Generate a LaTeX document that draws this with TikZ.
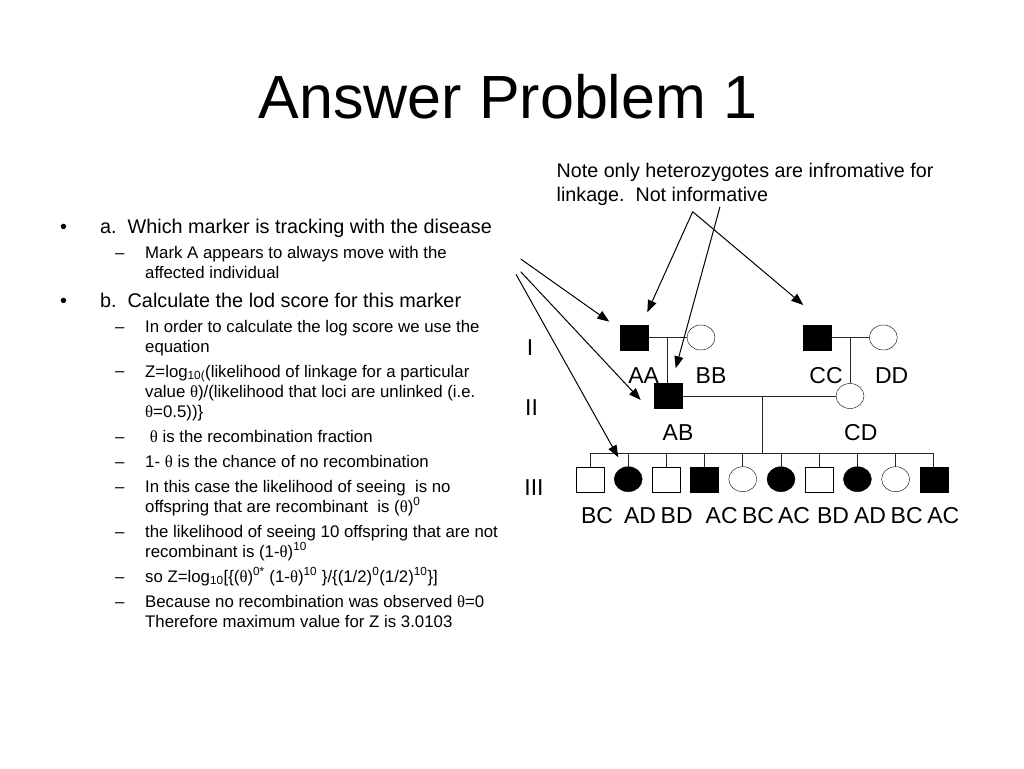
\documentclass[tikz,border=0pt]{standalone}
\usepackage{fontspec}
\setmainfont{Liberation Sans}
\newfontfamily\greekfont{Liberation Serif}
\usepackage{tikz}
\usetikzlibrary{shapes.geometric}
\usetikzlibrary{calc}
\usetikzlibrary{arrows.meta}
\newcommand{\thet}{{\greekfont θ}}

\begin{document}
\begin{tikzpicture}[x=1pt,y=-1pt,
	male/.style={draw,rectangle,minimum width=28pt,minimum height=25pt,inner sep=0pt},
	female/.style={draw,ellipse,minimum width=28pt,minimum height=25pt,inner sep=0pt},
	sick/.style={fill=black},
	kin/.style={line width=0.8pt,draw=black!85},
	pointer/.style={line width=1pt,-{Triangle[length=12pt,width=9pt]}},
	geno/.style={font=\fontsize{23}{27}\selectfont,inner sep=0pt,anchor=base},
	mainitem/.style={font=\fontsize{19.8}{24}\selectfont,inner sep=0pt,anchor=base west,align=left},
	subitem/.style={font=\fontsize{16.8}{20}\selectfont,inner sep=0pt,anchor=base west,align=left}]
	\fill[white] (0,0) rectangle (1024,768);
	\useasboundingbox (0,0) rectangle (1024,768);
	\node[anchor=base,inner sep=0pt,font=\fontsize{61}{70}\selectfont] (title) at (508,118.3) {Answer Problem 1};
	% left column (multi-line items sit on their last baseline)
	\node[mainitem] (bula) at (60,233) {•};
	\node[mainitem] (ita) at (100,233) {a.\ \ Which marker is tracking with the disease};
	\node[subitem] (dsh1) at (115,258) {–};
	\node[subitem] (sub1) at (145,278) {Mark A appears to always move with the\\affected individual};
	\node[mainitem] (bulb) at (60,307) {•};
	\node[mainitem] (itb) at (100,307) {b.\ \ Calculate the lod score for this marker};
	\node[subitem] (dsh2) at (115,332) {–};
	\node[subitem] (sub2) at (145,352) {In order to calculate the log score we use the\\equation};
	\node[subitem] (dsh3) at (115,376) {–};
	\node[subitem] (sub3) at (145,417) {Z=log\textsubscript{10(}(likelihood of linkage for a particular\\value \thet)/(likelihood that loci are unlinked (i.e.\\\thet=0.5))\}};
	\node[subitem] (dsh4) at (115,442) {–};
	\node[subitem] (sub4) at (145,442) {\ \thet{} is the recombination fraction};
	\node[subitem] (dsh5) at (115,467) {–};
	\node[subitem] (sub5) at (145,467) {1- \thet{} is the chance of no recombination};
	\node[subitem] (dsh6) at (115,492) {–};
	\node[subitem] (sub6) at (145,512) {In this case the likelihood of seeing\ \ is no\\offspring that are recombinant\ \ is (\thet)\textsuperscript{0}};
	\node[subitem] (dsh7) at (115,537) {–};
	\node[subitem] (sub7) at (145,557) {the likelihood of seeing 10 offspring that are not\\recombinant is (1-\thet)\textsuperscript{10}};
	\node[subitem] (dsh8) at (115,582) {–};
	\node[subitem] (sub8) at (145,582) {so Z=log\textsubscript{10}[\{(\thet)\textsuperscript{0*} (1-\thet)\textsuperscript{10} \}/\{(1/2)\textsuperscript{0}(1/2)\textsuperscript{10}\}]};
	\node[subitem] (dsh9) at (115,607) {–};
	\node[subitem] (sub9) at (145,627) {Because no recombination was observed \thet=0\\Therefore maximum value for Z is 3.0103};
	% note
	\node[anchor=base west,align=left,inner sep=0pt,font=\fontsize{19.7}{24.4}\selectfont] (note) at (556.5,201.7) {Note only heterozygotes are infromative for\\linkage.\ \ Not informative};
	% pedigree
	\node[male,sick] (aa) at (634.5,337.5) {};
	\node[female] (bb) at (701,337.5) {};
	\node[male,sick] (cc) at (817,337.5) {};
	\node[female] (dd) at (883.3,337.5) {};
	\node[male,sick] (ab) at (668,396) {};
	\node[female] (cd) at (850,396) {};
	\node[male] (c1) at (590,479.2) {};
	\node[female,sick] (c2) at (628.2,479.2) {};
	\node[male] (c3) at (666.4,479.2) {};
	\node[male,sick] (c4) at (704.6,479.2) {};
	\node[female] (c5) at (742.8,479.2) {};
	\node[female,sick] (c6) at (781,479.2) {};
	\node[male] (c7) at (819.2,479.2) {};
	\node[female,sick] (c8) at (857.4,479.2) {};
	\node[female] (c9) at (895.6,479.2) {};
	\node[male,sick] (c10) at (933.8,479.2) {};
	\coordinate (m1) at ($(aa.east)!.5!(bb.west)$);
	\coordinate (m2) at ($(cc.east)!.5!(dd.west)$);
	\coordinate (m3) at ($(ab.east)!.52!(cd.west)$);
	\coordinate (sib) at ($(m3)+(0,57.3)$);
	\draw[kin] (aa) -- (bb) (m1) -- (m1 |- ab.north)
		(cc) -- (dd) (m2) -- (m2 |- cd.north)
		(ab) -- (cd) (m3) -- (sib)
		(sib -| c1) -- (sib -| c10);
	\draw[kin] (sib -| c1) -- (c1.north) (sib -| c2) -- (c2.north)
		(sib -| c3) -- (c3.north) (sib -| c4) -- (c4.north)
		(sib -| c5) -- (c5.north) (sib -| c6) -- (c6.north)
		(sib -| c7) -- (c7.north) (sib -| c8) -- (c8.north)
		(sib -| c9) -- (c9.north) (sib -| c10) -- (c10.north);
	% genotypes
	\node[geno] (gaa) at (643.7,383.3) {AA};
	\node[geno] (gbb) at (711,383.3) {BB};
	\node[geno] (gcc) at (826,383.3) {CC};
	\node[geno] (gdd) at (891.7,383.3) {DD};
	\node[geno] (gab) at (678,440.7) {AB};
	\node[geno] (gcd) at (860.8,440.7) {CD};
	\node[geno] (g1) at (597,523.3) {BC};
	\node[geno] (g2) at (640,523.3) {AD};
	\node[geno] (g3) at (676.7,523.3) {BD};
	\node[geno] (g4) at (721.7,523.3) {AC};
	\node[geno] (g5) at (758,523.3) {BC};
	\node[geno] (g6) at (794,523.3) {AC};
	\node[geno] (g7) at (833,523.3) {BD};
	\node[geno] (g8) at (870,523.3) {AD};
	\node[geno] (g9) at (906.7,523.3) {BC};
	\node[geno] (g10) at (943.3,523.3) {AC};
	% generations
	\node[geno] (gen1) at (530,355) {I};
	\node[geno] (gen2) at (531.5,415.7) {II};
	\node[geno] (gen3) at (534,495.7) {III};
	% arrows
	\coordinate (n1) at (692.7,211.7);
	\coordinate (n2) at (720,206.7);
	\coordinate (l1) at (520.7,259);
	\coordinate (l2) at (520.7,271.7);
	\coordinate (l3) at (516,274.3);
	\coordinate (e1) at (647.3,312.3);
	\coordinate (e2) at (803.3,305);
	\coordinate (e3) at (675.7,368.3);
	\coordinate (e4) at (609.3,321.7);
	\coordinate (e5) at (640.7,400);
	\coordinate (e6) at (618.3,457.3);
	\draw[pointer] (n1) -- (e1);
	\draw[pointer] (n1) -- (e2);
	\draw[pointer] (n2) -- (e3);
	\draw[pointer] (l1) -- (e4);
	\draw[pointer] (l2) -- (e5);
	\draw[pointer] (l3) -- (e6);
\end{tikzpicture}
\end{document}
